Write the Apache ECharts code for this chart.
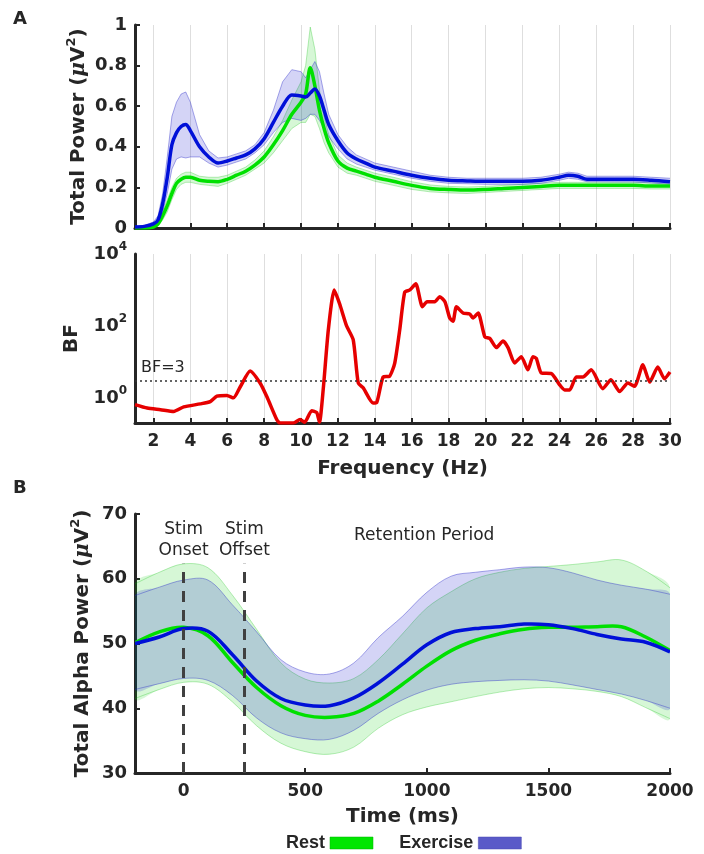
<!DOCTYPE html>
<html>
<head>
<meta charset="utf-8">
<script src="https://cdn.jsdelivr.net/npm/echarts@6/dist/echarts.min.js"></script>
<style>
  html, body { margin: 0; padding: 0; background: #fff; }
  #chart { width: 704px; height: 854px; }
</style>
</head>
<body>
<div id="chart"></div>
<script>
// ---- panel A (top): total power spectrum ----
const freqs = [1, 1.5, 2, 2.25, 2.5, 2.75, 3, 3.25, 3.5, 3.75,
  4, 4.5, 5, 5.5, 6, 6.5, 7, 7.5, 8, 8.5,
  9, 9.5, 10, 10.25, 10.5, 10.75, 11, 11.25, 11.5, 12,
  12.5, 13, 13.5, 14, 15, 16, 17, 18, 19, 20,
  21, 22, 23, 24, 24.5, 25, 25.5, 26, 27, 28,
  29, 30];
const exMean = [0.005, 0.008, 0.02, 0.04, 0.12, 0.25, 0.41, 0.47, 0.50, 0.51,
  0.48, 0.40, 0.35, 0.32, 0.33, 0.345, 0.36, 0.39, 0.44, 0.52,
  0.60, 0.655, 0.65, 0.645, 0.665, 0.685, 0.65, 0.58, 0.51, 0.43,
  0.37, 0.34, 0.32, 0.30, 0.28, 0.26, 0.245, 0.235, 0.232, 0.23,
  0.23, 0.23, 0.235, 0.25, 0.26, 0.255, 0.24, 0.24, 0.24, 0.24,
  0.235, 0.228];
const exHigh = [0.01, 0.012, 0.03, 0.06, 0.17, 0.35, 0.55, 0.62, 0.66, 0.67,
  0.62, 0.46, 0.38, 0.345, 0.35, 0.365, 0.38, 0.41, 0.47, 0.58,
  0.72, 0.78, 0.77, 0.74, 0.78, 0.82, 0.77, 0.66, 0.56, 0.46,
  0.40, 0.36, 0.34, 0.32, 0.30, 0.28, 0.26, 0.25, 0.245, 0.245,
  0.245, 0.245, 0.25, 0.265, 0.275, 0.27, 0.255, 0.255, 0.255, 0.255,
  0.25, 0.245];
const exLow = [0.0, 0.004, 0.01, 0.025, 0.08, 0.17, 0.29, 0.34, 0.35, 0.345,
  0.35, 0.35, 0.32, 0.30, 0.31, 0.325, 0.34, 0.37, 0.41, 0.47,
  0.52, 0.54, 0.53, 0.54, 0.56, 0.56, 0.53, 0.49, 0.45, 0.39,
  0.34, 0.315, 0.30, 0.285, 0.265, 0.245, 0.23, 0.22, 0.218, 0.215,
  0.215, 0.215, 0.22, 0.235, 0.245, 0.24, 0.228, 0.228, 0.227, 0.227,
  0.222, 0.215];
const restMean = [0.0, 0.0, 0.005, 0.02, 0.06, 0.11, 0.17, 0.22, 0.24, 0.25,
  0.25, 0.235, 0.23, 0.228, 0.24, 0.26, 0.28, 0.31, 0.35, 0.41,
  0.48, 0.56, 0.62, 0.66, 0.79, 0.70, 0.58, 0.49, 0.42, 0.33,
  0.295, 0.28, 0.265, 0.25, 0.23, 0.21, 0.195, 0.19, 0.187, 0.19,
  0.195, 0.2, 0.205, 0.21, 0.21, 0.21, 0.21, 0.21, 0.21, 0.21,
  0.207, 0.207];
const restHigh = [0.005, 0.005, 0.01, 0.03, 0.08, 0.14, 0.20, 0.245, 0.265, 0.275,
  0.275, 0.255, 0.25, 0.25, 0.26, 0.28, 0.30, 0.335, 0.38, 0.45,
  0.53, 0.63, 0.72, 0.80, 0.99, 0.88, 0.68, 0.55, 0.46, 0.36,
  0.32, 0.30, 0.285, 0.27, 0.25, 0.228, 0.212, 0.205, 0.202, 0.205,
  0.21, 0.215, 0.22, 0.225, 0.225, 0.225, 0.225, 0.225, 0.225, 0.225,
  0.222, 0.222];
const restLow = [0.0, 0.0, 0.0, 0.01, 0.04, 0.08, 0.14, 0.19, 0.215, 0.225,
  0.225, 0.215, 0.21, 0.205, 0.22, 0.24, 0.26, 0.29, 0.32, 0.37,
  0.43, 0.49, 0.52, 0.52, 0.56, 0.55, 0.49, 0.42, 0.37, 0.30,
  0.27, 0.26, 0.245, 0.23, 0.21, 0.19, 0.178, 0.173, 0.17, 0.175,
  0.18, 0.185, 0.19, 0.195, 0.195, 0.195, 0.195, 0.195, 0.195, 0.195,
  0.192, 0.192];
const freqTicks = [2, 4, 6, 8, 10, 12, 14, 16, 18, 20, 22, 24, 26, 28, 30];

// ---- panel A (bottom): Bayes factor ----
const bfFreqs = [1, 1.66, 2.38, 3.1, 3.64, 4.54, 5.08, 5.44, 5.98, 6.34,
  6.7, 7.24, 7.78, 8.15, 8.69, 8.86, 9.58, 9.95, 10.2, 10.58,
  10.85, 11.0, 11.2, 11.48, 11.8, 12.1, 12.47, 12.83, 13.1, 13.37,
  13.9, 14.1, 14.45, 14.8, 15.08, 15.35, 15.62, 15.9, 16.22, 16.58,
  16.83, 17.25, 17.52, 17.8, 18.06, 18.24, 18.42, 18.78, 19.14, 19.32,
  19.6, 19.96, 20.23, 20.59, 20.95, 21.22, 21.58, 21.94, 22.3, 22.57,
  22.75, 23.03, 23.57, 24.02, 24.29, 24.56, 24.92, 25.28, 25.73, 26.36,
  26.8, 27.27, 27.72, 28.08, 28.53, 28.9, 29.34, 29.7, 30];
const bfValues = [0.65, 0.52, 0.47, 0.42, 0.56, 0.68, 0.79, 1.12, 1.17, 1.0,
  2.0, 5.6, 2.6, 1.07, 0.245, 0.2, 0.2, 0.25, 0.21, 0.44,
  0.39, 0.21, 1.66, 78, 1000, 400, 100, 41, 2.6, 1.9,
  0.72, 0.74, 3.8, 4.0, 9.3, 78, 870, 1000, 1480, 340,
  470, 470, 650, 470, 166, 135, 340, 230, 215, 166,
  230, 50, 45, 25, 38, 25, 9.3, 14, 6, 14,
  12.6, 4.9, 4.7, 2.3, 1.66, 1.66, 3.8, 3.8, 6, 1.8,
  3.2, 1.5, 2.6, 2.1, 8.3, 2.75, 7.2, 3.4, 5.2];
const bfThreshold = 3;

// ---- panel B: total alpha power over time ----
const times = [-200, -100, 0, 100, 200, 300, 400, 500, 600, 700, 800,
  900, 1000, 1100, 1200, 1300, 1400, 1500, 1600, 1700, 1800, 1900, 2000];
const exAlpha = [50.0, 51.0, 52.3, 51.9, 48.3, 44.2, 41.5, 40.5, 40.4, 41.6, 43.9,
  46.8, 49.8, 51.7, 52.3, 52.6, 53.0, 52.9, 52.3, 51.4, 50.7, 50.2, 48.7];
const exAlphaHigh = [57.4, 58.7, 59.8, 59.8, 56.0, 51.8, 47.5, 45.6, 45.3, 47.0, 50.9,
  54.2, 57.9, 60.4, 61.0, 61.4, 61.8, 61.7, 60.9, 59.8, 59.0, 58.4, 57.6];
const exAlphaLow = [42.9, 43.8, 44.6, 44.3, 42.0, 38.5, 36.2, 35.3, 35.2, 36.6, 39.2,
  41.3, 42.8, 43.7, 44.1, 44.3, 44.4, 44.2, 43.6, 42.9, 42.2, 41.2, 40.0];
const restAlpha = [50.1, 51.8, 52.5, 51.2, 47.1, 43.2, 40.4, 38.9, 38.6, 39.2, 41.1,
  43.7, 46.5, 48.9, 50.5, 51.5, 52.2, 52.5, 52.5, 52.6, 52.6, 51.0, 48.9];
const restAlphaHigh = [59.2, 61.0, 62.3, 61.7, 57.5, 52.2, 47.0, 44.5, 43.9, 44.6, 47.5,
  51.5, 55.5, 58.0, 60.0, 61.0, 61.6, 61.9, 62.2, 62.6, 62.9, 61.2, 58.6];
const restAlphaLow = [41.5, 42.9, 44.0, 43.7, 41.0, 37.3, 34.6, 33.3, 32.9, 34.0, 36.9,
  39.0, 40.2, 41.0, 41.8, 42.5, 43.0, 43.2, 43.0, 42.6, 41.8, 40.1, 38.4];
const timeTicks = [0, 500, 1000, 1500, 2000];
const stimOnset = 0;
const stimOffset = 250;
const stimLineTop = 62.3;

const ink = '#262626';
const font = 'DejaVu Sans';
const greenLine = '#00e000';
const blueLine = '#0010d8';
const greenFill = 'rgba(0,205,0,0.16)';
const blueFill = 'rgba(0,0,202,0.17)';
const greenEdge = 'rgba(0,190,0,0.35)';
const blueEdge = 'rgba(40,40,200,0.5)';

const pairs = (xs, ys) => xs.map((x, i) => [x, ys[i]]);

function gridClip(cs) {
  return { type: 'rect', shape: { x: cs.x, y: cs.y, width: cs.width, height: cs.height } };
}

// shaded error band: polygon between lo and hi, placed with api.coord
function band(name, xs, lo, hi, fill, edge, axis, smooth) {
  return {
    name, type: 'custom', xAxisIndex: axis, yAxisIndex: axis, silent: true, z: 1,
    data: [[xs[0], lo[0]]],
    renderItem: (params, api) => {
      const top = xs.map((x, i) => api.coord([x, hi[i]]));
      const bottom = xs.map((x, i) => api.coord([x, lo[i]]));
      return {
        type: 'group',
        children: [
          { type: 'polygon', clipPath: gridClip(params.coordSys),
            shape: { points: top.concat(bottom.slice().reverse()), smooth },
            style: { fill, stroke: null } },
          { type: 'polyline', clipPath: gridClip(params.coordSys), shape: { points: top, smooth },
            style: { fill: null, stroke: edge, lineWidth: 0.8 } },
          { type: 'polyline', clipPath: gridClip(params.coordSys), shape: { points: bottom, smooth },
            style: { fill: null, stroke: edge, lineWidth: 0.8 } }
        ]
      };
    }
  };
}

// smooth mean curve for panel B, same smoothing as its bands
function curve(name, xs, ys, color, axis, smooth) {
  return {
    name, type: 'custom', xAxisIndex: axis, yAxisIndex: axis, silent: true, z: 3,
    data: [[xs[0], ys[0]]],
    renderItem: (params, api) => ({
      type: 'polyline', clipPath: gridClip(params.coordSys),
      shape: { points: xs.map((x, i) => api.coord([x, ys[i]])), smooth },
      style: { fill: null, stroke: color, lineWidth: 3.5, lineJoin: 'round' }
    })
  };
}

function meanLine(name, xs, ys, color, axis, smooth) {
  return {
    name, type: 'line', xAxisIndex: axis, yAxisIndex: axis, symbol: 'none',
    smooth, silent: true, z: 3, data: pairs(xs, ys),
    lineStyle: { color, width: 3.5 }
  };
}

const axisLine = { onZero: false, lineStyle: { color: ink, width: 3 } };
const axisTick = { inside: true, length: 5, lineStyle: { color: ink, width: 2 } };
const labelStyle = { color: ink, fontFamily: font, fontWeight: 'bold', fontSize: 17 };
const nameStyle = {
  color: ink, fontFamily: font, fontWeight: 'bold', fontSize: 20, lineHeight: 28,
  rich: {
    i: { fontFamily: 'DejaVu Serif', fontStyle: 'italic', fontSize: 20, color: ink, lineHeight: 28 },
    s: { fontFamily: font, fontWeight: 'bold', fontSize: 13, color: ink, verticalAlign: 'top', lineHeight: 28 }
  }
};
const gridLine = { show: true, lineStyle: { color: '#dedede', width: 1 } };

const chart = echarts.init(document.getElementById('chart'));

chart.setOption({
  backgroundColor: '#fff',
  animation: false,
  grid: [
    { left: 135, right: 34, top: 25, height: 203, outerBoundsMode: 'none' },
    { left: 135, right: 34, top: 254, height: 169, outerBoundsMode: 'none' },
    { left: 135, right: 34, top: 514, height: 259, outerBoundsMode: 'none' }
  ],
  xAxis: [
    {
      gridIndex: 0, type: 'value', min: 1, max: 30,
      axisLine, axisTick: Object.assign({ customValues: freqTicks }, axisTick),
      axisLabel: { show: false }, splitLine: gridLine
    },
    {
      gridIndex: 1, type: 'value', min: 1, max: 30,
      axisLine, axisTick: Object.assign({ customValues: freqTicks }, axisTick),
      axisLabel: Object.assign({ customValues: freqTicks, margin: 10 }, labelStyle),
      splitLine: gridLine,
      name: 'Frequency (Hz)', nameLocation: 'middle', nameGap: 32, nameMoveOverlap: false,
      nameTextStyle: nameStyle
    },
    {
      gridIndex: 2, type: 'value', min: -200, max: 2000,
      axisLine, axisTick: Object.assign({ customValues: timeTicks }, axisTick),
      axisLabel: Object.assign({ customValues: timeTicks, margin: 10, formatter: v => String(v) }, labelStyle),
      splitLine: { show: false },
      name: 'Time (ms)', nameLocation: 'middle', nameGap: 30, nameMoveOverlap: false,
      nameTextStyle: nameStyle
    }
  ],
  yAxis: [
    {
      gridIndex: 0, type: 'value', min: 0, max: 1, interval: 0.2,
      axisLine, axisTick, splitLine: { show: false },
      axisLabel: Object.assign({ margin: 8 }, labelStyle, { fontSize: 18 }),
      name: 'Total Power ({i|μ}V{s|2})', nameLocation: 'middle', nameGap: 42, nameMoveOverlap: false,
      nameTextStyle: nameStyle
    },
    {
      gridIndex: 1, type: 'log', logBase: 10, min: 0.2, max: 10000, splitNumber: 5,
      axisLine, axisTick: { show: false }, splitLine: { show: false },
      axisLabel: Object.assign({
        margin: 8, showMinLabel: false, lineHeight: 26,
        formatter: v => {
          const e = Math.log10(v);
          const r = Math.round(e);
          return Math.abs(e - r) < 0.01 && r % 2 === 0 ? '10{s|' + r + '}' : '';
        },
        rich: { s: { fontFamily: font, fontWeight: 'bold', fontSize: 12, color: ink, verticalAlign: 'top', lineHeight: 26 } }
      }, labelStyle, { fontSize: 18 }),
      name: 'BF', nameLocation: 'middle', nameGap: 49, nameMoveOverlap: false,
      nameTextStyle: nameStyle
    },
    {
      gridIndex: 2, type: 'value', min: 30, max: 70, interval: 10,
      axisLine, axisTick, splitLine: { show: false },
      axisLabel: Object.assign({ margin: 8 }, labelStyle, { fontSize: 18 }),
      name: 'Total Alpha Power ({i|μ}V{s|2})', nameLocation: 'middle', nameGap: 38, nameMoveOverlap: false,
      nameTextStyle: nameStyle
    }
  ],
  legend: {
    data: [
      { name: 'Rest', itemStyle: { color: '#00e600', borderColor: '#00b000', borderWidth: 0.5 } },
      { name: 'Exercise', itemStyle: { color: '#5a5ac8', borderColor: '#4848b0', borderWidth: 0.5 } }
    ],
    left: 281, top: 829, icon: 'rect', itemWidth: 43, itemHeight: 12, itemGap: 26,
    align: 'right', selectedMode: false,
    textStyle: { fontFamily: 'Liberation Sans', fontWeight: 'bold', fontSize: 18, color: ink }
  },
  graphic: [
    { type: 'text', left: 13, top: 10, style: { text: 'A', font: 'bold 18px "DejaVu Sans"', fill: ink } },
    { type: 'text', left: 13, top: 479, style: { text: 'B', font: 'bold 18px "DejaVu Sans"', fill: ink } },
    { type: 'text', left: 354, top: 527, style: { text: 'Retention Period', font: '17px "DejaVu Sans"', fill: ink } }
  ],
  series: [
    band('Rest', freqs, restLow, restHigh, greenFill, greenEdge, 0, 0),
    band('Exercise', freqs, exLow, exHigh, blueFill, blueEdge, 0, 0),
    meanLine('Rest', freqs, restMean, greenLine, 0, 0.3),
    meanLine('Exercise', freqs, exMean, blueLine, 0, 0.3),
    {
      name: 'BF', type: 'line', xAxisIndex: 1, yAxisIndex: 1, symbol: 'none',
      smooth: 0.2, silent: true, data: pairs(bfFreqs, bfValues),
      lineStyle: { color: '#e60000', width: 3.5 },
      markLine: {
        silent: true, symbol: 'none', animation: false,
        data: [{ yAxis: bfThreshold }],
        lineStyle: { color: '#333', width: 1.5, type: [2, 3] },
        label: {
          formatter: 'BF=' + bfThreshold, position: 'insideStartTop', distance: [6, 5],
          color: ink, fontFamily: font, fontSize: 16
        }
      }
    },
    band('Rest', times, restAlphaLow, restAlphaHigh, greenFill, greenEdge, 2, 0.35),
    band('Exercise', times, exAlphaLow, exAlphaHigh, blueFill, blueEdge, 2, 0.35),
    curve('Rest', times, restAlpha, greenLine, 2, 0.35),
    curve('Exercise', times, exAlpha, blueLine, 2, 0.35),
    {
      name: 'Stim', type: 'line', xAxisIndex: 2, yAxisIndex: 2, symbol: 'none', silent: true,
      data: [], z: 4,
      markLine: {
        silent: true, symbol: 'none', animation: false,
        lineStyle: { color: '#404040', width: 3, type: [11, 8] },
        label: {
          position: 'end', formatter: '{b}', distance: 3,
          color: ink, fontFamily: font, fontSize: 17, lineHeight: 21
        },
        data: [
          [{ name: 'Stim\nOnset', coord: [stimOnset, 30] }, { coord: [stimOnset, stimLineTop] }],
          [{ name: 'Stim\nOffset', coord: [stimOffset, 30] }, { coord: [stimOffset, stimLineTop] }]
        ]
      }
    }
  ]
});
</script>
</body>
</html>
